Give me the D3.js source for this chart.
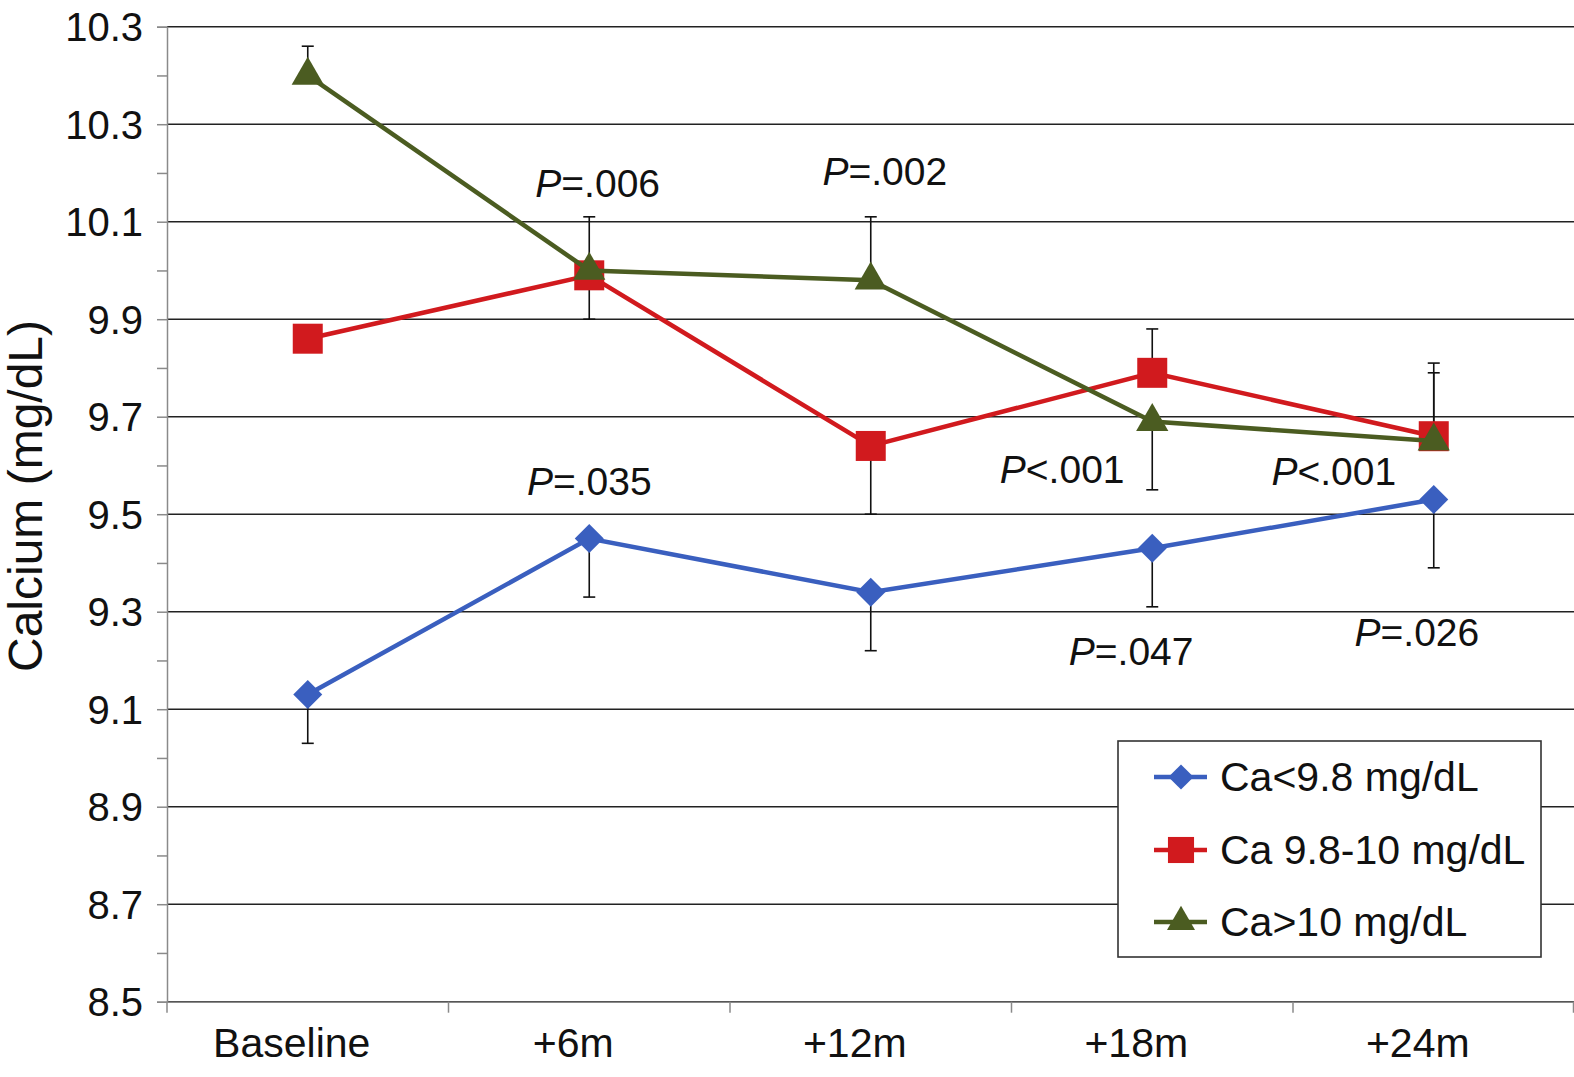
<!DOCTYPE html>
<html>
<head>
<meta charset="utf-8">
<script src="https://cdn.jsdelivr.net/npm/d3@7"></script>
<style>
  body { margin: 0; background: #fff; }
  svg { display: block; font-family: "Liberation Sans", Arial, sans-serif; }
</style>
</head>
<body>
<svg width="1574" height="1077"></svg>
<script>
// data
var categories = ['Baseline', '+6m', '+12m', '+18m', '+24m']
var seriesNames = ['Ca<9.8 mg/dL', 'Ca 9.8-10 mg/dL', 'Ca>10 mg/dL']
var lowCa = [9.13, 9.45, 9.34, 9.43, 9.53]
var midCa = [9.86, 9.99, 9.64, 9.79, 9.66]
var highCa = [10.40, 10.00, 9.98, 9.69, 9.65]
// far end of the one-sided error bars
var lowCaErr = [9.03, 9.33, 9.22, 9.31, 9.39]
var midCaErr = [null, 9.90, 9.50, 9.88, 9.81]
var highCaErr = [10.46, 10.11, 10.11, 9.55, 9.79]

var yTicks = [8.5, 8.7, 8.9, 9.1, 9.3, 9.5, 9.7, 9.9, 10.1, 10.3, 10.5]
var yTickLabels = ['8.5', '8.7', '8.9', '9.1', '9.3', '9.5', '9.7', '9.9', '10.1', '10.3', '10.3']
var yMinor = [8.6, 8.8, 9.0, 9.2, 9.4, 9.6, 9.8, 10.0, 10.2, 10.4]

// p-value notes: text after the italic P, spot in (category index, mg/dL)
var pTexts = ['=.006', '=.002', '=.035', '<.001', '<.001', '=.047', '=.026']
var pIndex = [1.03, 2.05, 1.0, 2.68, 3.645, 2.925, 3.94]
var pValue = [10.15, 10.175, 9.54, 9.565, 9.56, 9.19, 9.23]

var colors = ['#3a5fbf', '#d11a1e', '#4b5c21']

var svg = d3.select('svg')
var plotLeft = 167, plotRight = 1574.5, plotTop = 26.7, plotBottom = 1001.7

var y = d3.scaleLinear().domain([8.5, 10.5]).range([plotBottom, plotTop])
var x = d3.scaleBand().domain(categories).range([plotLeft, plotRight]).padding(0)
var bw = x.bandwidth()
var xi = d3.scaleLinear().domain([0, 4])
    .range([x(categories[0]) + bw / 2, x(categories[4]) + bw / 2])

// grid
svg.append('g')
    .selectAll('line')
    .data(yTicks)
    .join('line')
    .attr('x1', plotLeft)
    .attr('x2', 1574)
    .attr('y1', d => y(d))
    .attr('y2', d => y(d))
    .attr('stroke', '#222')
    .attr('stroke-width', 1.6)

// y axis
var yAxis = d3.axisLeft(y)
    .tickValues(yTicks.concat(yMinor))
    .tickSize(10)
    .tickPadding(14)
    .tickFormat(function(d) {
        var i = yTicks.findIndex(t => Math.abs(t - d) < 1e-6)
        return i < 0 ? '' : yTickLabels[i]
    })
var gy = svg.append('g')
    .attr('transform', 'translate(' + plotLeft + ',0)')
    .call(yAxis)
gy.select('.domain').attr('stroke', '#8a8a8a').attr('stroke-width', 1.5)
gy.selectAll('.tick line').attr('stroke', '#8a8a8a').attr('stroke-width', 1.5)
gy.selectAll('.tick text')
    .attr('font-size', 40)
    .attr('fill', '#111')
    .attr('dy', '0.35em')
    .attr('font-family', '"Liberation Sans", Arial, sans-serif')

// x axis
var xAxis = d3.axisBottom(x).tickSize(0).tickPadding(0)
var gx = svg.append('g')
    .attr('transform', 'translate(0,' + plotBottom + ')')
    .call(xAxis)
gx.select('.domain').attr('stroke', '#8a8a8a').attr('stroke-width', 1.5)
gx.selectAll('.tick text')
    .attr('font-size', 41)
    .attr('fill', '#111')
    .attr('y', 55)
    .attr('dy', 0)
    .attr('dx', -16)
    .attr('font-family', '"Liberation Sans", Arial, sans-serif')
svg.append('g')
    .selectAll('line')
    .data(categories.map(c => x(c)).concat([plotRight - 1]))
    .join('line')
    .attr('x1', d => d)
    .attr('x2', d => d)
    .attr('y1', plotBottom)
    .attr('y2', plotBottom + 11)
    .attr('stroke', '#8a8a8a')
    .attr('stroke-width', 1.5)

// y title
svg.append('text')
    .attr('transform', 'translate(42,496) rotate(-90)')
    .attr('text-anchor', 'middle')
    .attr('font-size', 48)
    .attr('fill', '#111')
    .text('Calcium (mg/dL)')

var series = [
    { name: seriesNames[0], values: lowCa, err: lowCaErr, color: colors[0], shape: 'diamond' },
    { name: seriesNames[1], values: midCa, err: midCaErr, color: colors[1], shape: 'square' },
    { name: seriesNames[2], values: highCa, err: highCaErr, color: colors[2], shape: 'triangle' }
]

function markerPath(shape, k) {
    if (shape === 'diamond') return d3.symbol(d3.symbolSquare, 420 * k * k)()
    if (shape === 'square') return d3.symbol(d3.symbolSquare, 900 * k * k)()
    return d3.symbol(d3.symbolTriangle, 450 * k * k)()
}
function markerRotate(shape) {
    return shape === 'diamond' ? ' rotate(45)' : ''
}

// error bars
var errG = svg.append('g')
series.forEach(function(s) {
    s.values.forEach(function(v, i) {
        var e = s.err[i]
        if (e == null) return
        var cx = xi(i)
        errG.append('line')
            .attr('x1', cx).attr('x2', cx)
            .attr('y1', y(v)).attr('y2', y(e))
            .attr('stroke', '#111').attr('stroke-width', 1.6)
        errG.append('line')
            .attr('x1', cx - 6).attr('x2', cx + 6)
            .attr('y1', y(e)).attr('y2', y(e))
            .attr('stroke', '#111').attr('stroke-width', 1.6)
    })
})

// lines and markers
var line = d3.line()
    .x((d, i) => xi(i))
    .y(d => y(d))
series.forEach(function(s) {
    var g = svg.append('g')
    g.append('path')
        .datum(s.values)
        .attr('d', line)
        .attr('fill', 'none')
        .attr('stroke', s.color)
        .attr('stroke-width', 4.5)
    g.selectAll('path.mark')
        .data(s.values)
        .join('path')
        .attr('class', 'mark')
        .attr('d', markerPath(s.shape, 1))
        .attr('transform', (d, i) => 'translate(' + xi(i) + ',' + y(d) + ')' + markerRotate(s.shape))
        .attr('fill', s.color)
})

// p-value notes
svg.append('g')
    .selectAll('text')
    .data(pTexts)
    .join('text')
    .attr('x', (d, i) => xi(pIndex[i]))
    .attr('y', (d, i) => y(pValue[i]))
    .attr('text-anchor', 'middle')
    .attr('font-size', 39)
    .attr('fill', '#111')
    .each(function(d) {
        var t = d3.select(this)
        t.append('tspan').attr('font-style', 'italic').text('P')
        t.append('tspan').text(d)
    })

// legend
var lg = svg.append('g')
lg.append('rect')
    .attr('x', 1118)
    .attr('y', 741)
    .attr('width', 423)
    .attr('height', 216)
    .attr('fill', '#fff')
    .attr('stroke', '#333')
    .attr('stroke-width', 1.6)
var rowY = [777, 850, 922]
series.forEach(function(s, i) {
    var ry = rowY[i]
    lg.append('line')
        .attr('x1', 1154).attr('x2', 1207)
        .attr('y1', ry).attr('y2', ry)
        .attr('stroke', s.color).attr('stroke-width', 4.5)
    lg.append('path')
        .attr('d', markerPath(s.shape, 0.87))
        .attr('transform', 'translate(1181,' + ry + ')' + markerRotate(s.shape))
        .attr('fill', s.color)
    lg.append('text')
        .attr('x', 1220)
        .attr('y', ry + 14)
        .attr('font-size', 41)
        .attr('fill', '#111')
        .text(s.name)
})
</script>
</body>
</html>
